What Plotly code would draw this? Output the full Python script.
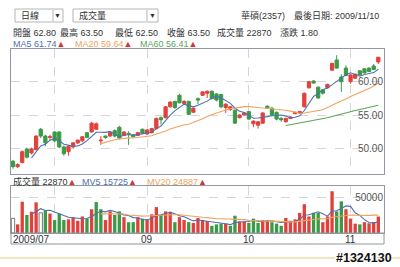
import plotly.graph_objects as go
import pandas as pd

W, H = 400, 267

# ---- data (daily, 2009/07 .. 2009/11/10) ----
open_ = [48.2, 47.4, 48.0, 50.0, 49.4, 49.9, 52.9, 51.9, 51.7, 52.5,
         52.5, 50.3, 49.6, 50.3, 50.9, 51.2, 52.4, 52.5, 52.9, 51.2,
         51.9, 51.9, 52.7, 53.2, 52.0, 52.3, 52.1, 52.0, 52.9, 52.2,
         52.4, 53.0, 54.6, 54.6, 56.2, 57.0, 57.9, 56.7, 57.0, 55.4,
         57.4, 57.9, 58.2, 58.5, 58.1, 58.0, 56.1, 55.8, 55.7, 54.6,
         55.0, 55.5, 53.7, 53.5, 53.8, 56.3, 56.0, 55.4, 54.5, 54.0,
         54.5, 55.2, 55.3, 56.2, 59.0, 60.0, 59.1, 58.7, 59.0, 61.6,
         63.1, 60.6, 61.9, 59.9, 60.4, 61.5, 61.8, 61.9, 62.2, 62.8]
high = [48.4, 47.9, 49.8, 50.2, 50.2, 52.0, 53.1, 52.1, 52.1, 52.6,
        52.6, 50.5, 50.6, 51.0, 51.4, 51.9, 52.5, 54.0, 53.9, 51.9,
        52.0, 52.5, 52.9, 53.4, 52.6, 52.6, 52.2, 52.5, 53.0, 52.9,
        53.1, 54.6, 54.8, 56.3, 57.0, 57.1, 58.1, 57.2, 57.1, 56.1,
        57.6, 58.5, 58.6, 58.6, 58.2, 58.1, 56.7, 56.3, 55.8, 55.1,
        55.4, 55.6, 54.2, 54.1, 55.4, 56.4, 56.2, 55.5, 54.7, 54.6,
        54.8, 55.5, 55.6, 58.3, 60.0, 60.1, 59.2, 58.8, 59.6, 62.7,
        63.8, 61.0, 62.3, 61.0, 61.1, 61.6, 61.9, 62.0, 62.5, 63.5]
low = [47.1, 47.2, 47.9, 48.6, 49.2, 49.8, 51.6, 50.4, 51.2, 51.0,
       50.1, 49.0, 49.0, 50.1, 50.7, 51.0, 51.6, 52.4, 52.8, 50.6,
       51.5, 51.8, 51.7, 51.4, 51.9, 50.6, 51.7, 51.9, 52.2, 52.1,
       52.3, 52.9, 53.6, 54.5, 56.1, 55.9, 56.7, 56.5, 55.0, 55.3,
       56.6, 57.8, 57.5, 57.3, 57.0, 56.0, 55.3, 55.6, 53.7, 54.5,
       54.9, 54.3, 53.2, 53.0, 53.7, 55.9, 54.9, 54.2, 54.0, 53.9,
       54.4, 55.1, 55.2, 56.1, 58.9, 59.6, 57.4, 58.0, 58.9, 61.5,
       61.8, 58.4, 60.7, 59.6, 60.3, 60.8, 61.1, 61.3, 61.6, 62.5]
close = [47.4, 47.7, 49.6, 48.8, 50.0, 51.9, 51.9, 50.9, 51.8, 51.2,
         50.3, 49.3, 50.4, 50.9, 51.3, 51.8, 51.7, 53.8, 53.7, 51.3,
         51.7, 52.4, 51.9, 51.6, 52.5, 52.2, 51.8, 52.4, 52.3, 52.8,
         53.0, 54.5, 54.3, 56.2, 56.9, 56.1, 56.8, 57.0, 55.1, 56.0,
         57.2, 58.4, 58.5, 57.4, 57.2, 56.2, 56.6, 56.2, 53.8, 55.0,
         55.3, 54.4, 54.1, 54.0, 55.3, 56.0, 55.0, 54.4, 54.3, 54.5,
         54.7, 55.4, 55.5, 58.2, 59.9, 59.7, 57.5, 58.2, 59.5, 62.6,
         61.9, 59.9, 60.8, 60.9, 61.0, 60.9, 61.2, 61.4, 61.7, 63.5]
volume = [20400, 12000, 43500, 25000, 29600, 42600, 28000, 31000, 27000, 18000,
          27000, 18000, 19000, 22000, 17000, 23000, 20000, 33000, 43000, 33000,
          18000, 30000, 25000, 30000, 22000, 15000, 15000, 22000, 20000, 19000,
          26000, 36000, 25000, 30000, 28000, 15000, 22000, 18000, 15000, 14000,
          20800, 18000, 16500, 10000, 12000, 13000, 13000, 10000, 24000, 16000,
          16000, 14000, 20000, 14000, 18000, 18000, 15000, 13000, 10000, 21000,
          17000, 19000, 28000, 40000, 23000, 28000, 28000, 15000, 23000, 58000,
          30000, 44000, 33000, 20000, 13000, 12000, 15000, 13500, 15255, 22870]

month_start_index = [9, 29, 51, 73]
x_labels = ["2009/07", "09", "10", "11"]
x_label_index = [0, 29, 51, 73]
price_ticks = [50, 55, 60]
volume_ticks = [50000]

RED = "#e2413b"
GREEN = "#3b9a47"
BLUE = "#4f6fae"
ORANGE = "#f0a35c"
MGREEN = "#5aa65a"
FRAME = "#8f98a3"
GRID = "#d6d6d6"
FONT = "Liberation Sans, Noto Sans CJK TC, sans-serif"


def px(x):
    return x / W


def py(y):
    return 1 - y / H


n = len(close)
idx = list(range(n))
cs = pd.Series(close)
vs = pd.Series(volume)
ma5 = cs.rolling(5).mean()
ma20 = cs.rolling(20).mean()
ma60 = cs.rolling(60).mean()
mv5 = vs.rolling(5).mean()
mv20 = vs.rolling(20).mean()

vcol, vline = [], []
for i in range(n):
    if i == 0 or close[i] == close[i - 1]:
        vcol.append("#ffffff"); vline.append(1)
    elif close[i] > close[i - 1]:
        vcol.append(RED); vline.append(0)
    else:
        vcol.append(GREEN); vline.append(0)

fig = go.Figure()
fig.add_trace(go.Candlestick(
    x=idx, open=open_, high=high, low=low, close=close,
    increasing=dict(line=dict(color=RED, width=1), fillcolor=RED),
    decreasing=dict(line=dict(color=GREEN, width=1), fillcolor=GREEN),
    whiskerwidth=0, xaxis="x", yaxis="y", hoverinfo="skip"))
for s, c in [(ma5, BLUE), (ma20, ORANGE), (ma60, MGREEN)]:
    fig.add_trace(go.Scatter(x=idx, y=s, mode="lines", line=dict(color=c, width=1.1),
                             xaxis="x", yaxis="y", hoverinfo="skip"))
fig.add_trace(go.Bar(x=idx, y=volume, width=0.72,
                     marker=dict(color=vcol, line=dict(color="#777", width=vline)),
                     xaxis="x2", yaxis="y2", hoverinfo="skip"))
for s, c in [(mv5, BLUE), (mv20, ORANGE)]:
    fig.add_trace(go.Scatter(x=idx, y=s, mode="lines", line=dict(color=c, width=1.1),
                             xaxis="x2", yaxis="y2", hoverinfo="skip"))

xdom = [px(11), px(384)]
xr = [-0.43, 80.23]
axcommon = dict(showline=True, mirror=True, linecolor=FRAME, linewidth=1,
                zeroline=False, ticks="", gridcolor=GRID, griddash="dash", gridwidth=1)
fig.update_layout(
    width=W, height=H, margin=dict(l=0, r=0, t=0, b=0),
    paper_bgcolor="white", plot_bgcolor="white", showlegend=False,
    boxgap=0.3, boxgroupgap=0,
    font=dict(family=FONT, size=10, color="#333"),
    xaxis=dict(domain=xdom, range=xr, anchor="y", tickvals=month_start_index,
               showticklabels=False, rangeslider=dict(visible=False), **axcommon),
    xaxis2=dict(domain=xdom, range=xr, anchor="y2", matches="x", tickvals=month_start_index,
                showticklabels=False, **axcommon),
    yaxis=dict(domain=[py(174), py(49)], range=[46.32, 64.71], anchor="x", side="right",
               tickvals=price_ticks, tickformat=".2f", ticklabelposition="inside",
               tickfont=dict(size=10, color="#555"), **axcommon),
    yaxis2=dict(domain=[py(233), py(186)], range=[0, 65280], anchor="x2", side="right",
                tickvals=volume_ticks, tickformat="d", ticklabelposition="inside",
                tickfont=dict(size=10, color="#555"), **axcommon),
)

shapes = [
    dict(type="rect", xref="paper", yref="paper", x0=px(11), x1=px(384), y0=py(244), y1=py(233),
         line=dict(color=FRAME, width=1)),
    dict(type="line", xref="paper", yref="paper", x0=0, x1=1, y0=py(258), y1=py(258),
         line=dict(color="#f3dca0", width=1.5)),
    # dropdown boxes
    dict(type="rect", xref="paper", yref="paper", x0=px(15), x1=px(63), y0=py(22), y1=py(9),
         line=dict(color="#b5b5b5", width=1)),
    dict(type="line", xref="paper", yref="paper", x0=px(53), x1=px(53), y0=py(21), y1=py(10),
         line=dict(color="#b5b5b5", width=1)),
    dict(type="rect", xref="paper", yref="paper", x0=px(73), x1=px(158), y0=py(22), y1=py(9),
         line=dict(color="#b5b5b5", width=1)),
    dict(type="line", xref="paper", yref="paper", x0=px(147), x1=px(147), y0=py(21), y1=py(10),
         line=dict(color="#b5b5b5", width=1)),
]
fig.update_layout(shapes=shapes)

ann = []


def text(x, y, t, color="#333", size=9, anchor="left", **kw):
    ann.append(dict(x=px(x), y=py(y), xref="paper", yref="paper", text=t, showarrow=False,
                    xanchor=anchor, yanchor="middle", borderpad=0,
                    font=dict(family=FONT, size=size, color=color, **kw)))


TRI = "<span style='color:#d8322c'>▲</span>"
text(20, 15.5, "日線")
text(58, 15.5, "▼", size=7, anchor="center")
text(78, 15.5, "成交量")
text(152.5, 15.5, "▼", size=7, anchor="center")
text(240, 15, "華碩(2357)")
text(380, 15, "最後日期: 2009/11/10", anchor="right")

row2 = [(12, "開盤 62.80"), (59, "最高 63.50"), (114, "最低 62.50"), (166, "收盤 63.50"),
        (216, "成交量 22870"), (279, "漲跌 1.80")]
for x, t in row2:
    text(x, 33, t)
text(12, 44, "MA5 61.74" + TRI, color=BLUE)
text(74, 44, "MA20 59.64" + TRI, color=ORANGE)
text(139, 44, "MA60 56.41" + TRI, color=MGREEN)
text(12, 181.5, "成交量 22870" + TRI)
text(81, 181.5, "MV5 15725" + TRI, color=BLUE)
text(146, 181.5, "MV20 24887" + TRI, color=ORANGE)

# x tick labels below the volume panel
for i, lab in zip(x_label_index, x_labels):
    if i == 0:
        ann.append(dict(x=px(12), y=py(239), xref="paper", yref="paper", text=lab,
                        showarrow=False, xanchor="left", yanchor="middle", borderpad=0,
                        font=dict(family=FONT, size=10, color="#333")))
    else:
        ann.append(dict(x=i, y=py(239), xref="x2", yref="paper", text=lab,
                        showarrow=False, xanchor="center", yanchor="middle", borderpad=0,
                        font=dict(family=FONT, size=10, color="#333")))

text(393, 258, "#1324130", color="#111", size=12.5, anchor="right", weight="bold",
     shadow="1px 1px 0 #fff, -1px -1px 0 #fff, 1px -1px 0 #fff, -1px 1px 0 #fff")

fig.update_layout(annotations=ann)
fig.write_html("out.html", config={"displayModeBar": False})
